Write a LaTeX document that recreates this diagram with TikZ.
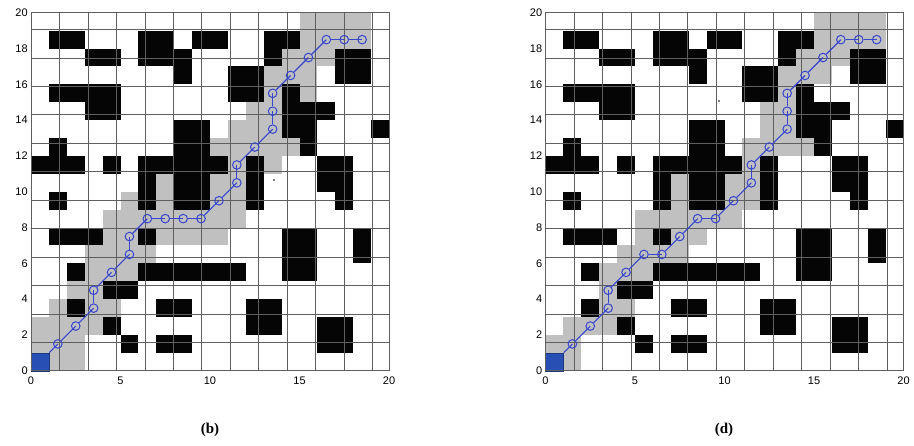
\documentclass[tikz,border=0pt]{standalone}
\usepackage{fontspec}
\setmainfont{Liberation Serif}
\setsansfont{Liberation Sans}
\definecolor{graycell}{RGB}{192,192,192}
\definecolor{blackcell}{RGB}{5,5,5}
\definecolor{gridcol}{RGB}{95,95,95}
\definecolor{pathblue}{RGB}{55,70,205}
\definecolor{startblue}{RGB}{40,80,180}
\def\blacklist{18/{1,2,6,7,9,10,13,14},17/{3,4,6,7,8,13,17,18},16/{8,11,12,17,18},15/{1,2,3,4,11,12,14},14/{3,4,14,15,16},13/{8,9,14,15,19},12/{1,8,9,15},11/{0,1,2,4,6,7,8,9,10,12,16,17},10/{6,8,9,12,16,17},9/{1,6,8,9,12,17},7/{1,2,3,6,14,15,18},6/{14,15,18},5/{2,6,7,8,9,10,11,14,15},4/{4,5},3/{2,7,8,12,13},2/{4,12,13,16,17},1/{5,7,8,16,17}}
\tikzset{
  gcell/.style={fill=graycell},
  bcell/.style={fill=blackcell},
  gridline/.style={draw=gridcol,line width=0.6pt},
  startcell/.style={rectangle,fill=startblue,draw=startblue!70!black,line width=0.5pt,minimum size=17.9pt,inner sep=0pt},
  waypt/.style={circle,draw=pathblue,line width=1pt,minimum size=8.6pt,inner sep=0pt},
  pathline/.style={draw=pathblue,line width=1.1pt},
  ticklab/.style={font=\sffamily\fontsize{11}{12}\selectfont,inner sep=1pt},
  caplab/.style={font=\bfseries\fontsize{15}{17}\selectfont,inner sep=1pt}
}
\newcommand{\gridmap}[4]{%
\begin{scope}[shift={(#1,75.2)},x=17.9pt,y=17.9pt]
  \foreach \yy/\xs in {#2} {\foreach \xx in \xs {\fill[gcell] (\xx,\yy) rectangle ++(1,1);}}
  \foreach \yy/\xs in \blacklist {\foreach \xx in \xs {\fill[bcell] (\xx,\yy) rectangle ++(1,1);}}
  \node[startcell] (#4s) at (0.5,0.5) {};
  \draw[gridline] (0,0) grid (20,20);
  \draw[gridline] (0,0) rectangle (20,20);
  \foreach \kk in {0,5,10,15,20} {\node[ticklab,anchor=north] (#4x\kk) at (\kk,-0.28) {\kk};}
  \foreach \kk in {0,2,...,20} {\node[ticklab,anchor=east] (#4y\kk) at (-0.12,\kk) {\kk};}
  \foreach \px/\py [count=\i, remember=\i as \lasti (initially s)] in {#3} {
    \node[waypt] (#4\i) at (\px,\py) {};
    \draw[pathline] (#4\lasti) -- (#4\i.center);
  }
\end{scope}}
\begin{document}
\begin{tikzpicture}[x=1pt,y=1pt]
\useasboundingbox (0,0) rectangle (914,446);
\fill[white] (0,0) rectangle (914,446);
\gridmap{31}{19/{15,16,17,18},18/{15,16,17,18},17/{14,15,16},16/{13,14,15},15/{13,15},14/{12,13},13/{11,12,13},12/{10,11,12,13,14},11/{11,13},10/{7,10,11},9/{5,7,10,11},8/{4,5,6,7,8,9,10,11},7/{4,5,7,8,9,10},6/{3,4,5,6},5/{3,4,5},4/{2,3},3/{1,3,4},2/{0,1,2,3},1/{0,1,2},0/{1,2}}{1.5/1.5,2.5/2.5,3.5/3.5,3.5/4.5,4.5/5.5,5.5/6.5,5.5/7.5,6.5/8.5,7.5/8.5,8.5/8.5,9.5/8.5,10.5/9.5,11.5/10.5,11.5/11.5,12.5/12.5,13.5/13.5,13.5/14.5,13.5/15.5,14.5/16.5,15.5/17.5,16.5/18.5,17.5/18.5,18.5/18.5}{L}
\gridmap{545.5}{19/{15,16,17,18},18/{15,16,17,18},17/{14,15,16},16/{13,14,15},15/{13},14/{12,13},13/{12,13},12/{11,12,13,14},11/{11},10/{7,10,11},9/{7,10,11},8/{5,6,7,8,9,10},7/{5,7,8},6/{4,5,6,7},5/{3,4,5},4/{3},3/{3,4},2/{1,2,3},1/{0,1},0/{1}}{1.5/1.5,2.5/2.5,3.5/3.5,3.5/4.5,4.5/5.5,5.5/6.5,6.5/6.5,7.5/7.5,8.5/8.5,9.5/8.5,10.5/9.5,11.5/10.5,11.5/11.5,12.5/12.5,13.5/13.5,13.5/14.5,13.5/15.5,14.5/16.5,15.5/17.5,16.5/18.5,17.5/18.5,18.5/18.5}{R}
\fill[black] (274,266) circle (0.8);
\fill[black] (719,345) circle (0.8);
\node[caplab] (capb) at (210,16) {(b)};
\node[caplab] (capd) at (724,16) {(d)};
\end{tikzpicture}
\end{document}
